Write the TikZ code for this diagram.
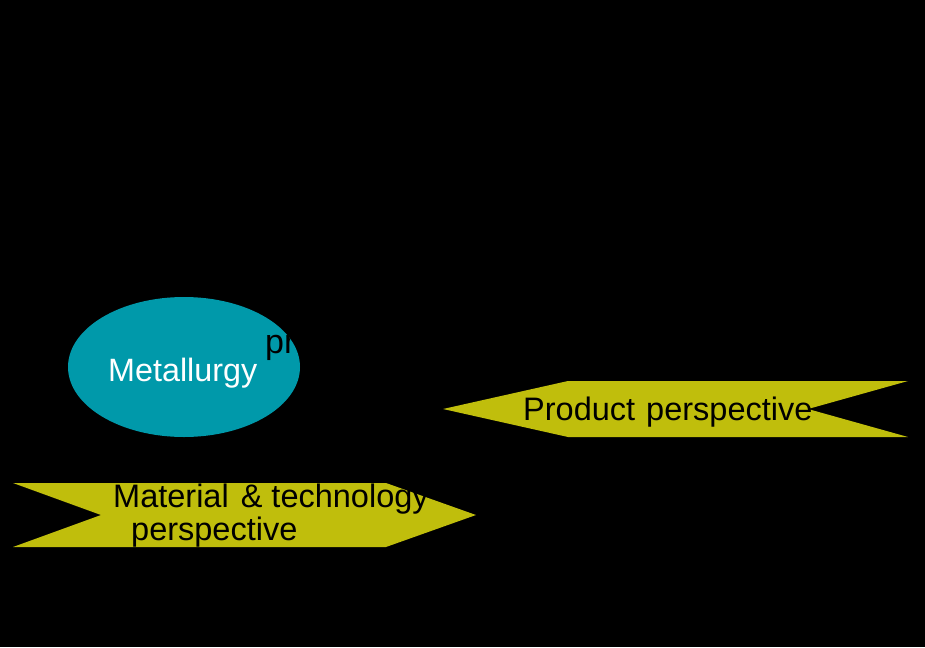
\documentclass[tikz,border=0pt]{standalone}
\usepackage{fontspec}
\setmainfont{Liberation Sans}
\usetikzlibrary{shapes.geometric}
\definecolor{teal}{RGB}{0,153,170}
\definecolor{olive}{RGB}{192,190,12}
\tikzset{
  lbl/.style={inner sep=0pt, anchor=base west, font=\fontsize{32.5}{34}\selectfont, text=black},
  chev/.style={fill=olive, draw=none}
}
\begin{document}
\begin{tikzpicture}[x=1pt,y=-1pt]
\fill[black] (0,0) rectangle (925,647);
\useasboundingbox (0,0) rectangle (925,647);
% ellipse
\node[ellipse, fill=teal, draw=none, minimum width=232pt, minimum height=140pt, inner sep=0pt] (metal) at (184,367) {};
\node[inner sep=0pt, anchor=base west, text=white, font=\fontsize{32.3}{34}\selectfont] (metallbl) at (108,381) {Metallurgy};
\begin{scope}
\clip (184,367) ellipse [x radius=116, y radius=70];
\node[lbl, font=\fontsize{34}{36}\selectfont] (pr) at (265,353) {pr};
\end{scope}
% product perspective chevron
\coordinate (p1) at (443,409);
\fill[chev] (p1) -- (568,381) -- (908,381) -- (808,409) -- (908,437) -- (568,437) -- cycle;
\node[lbl] (prod) at (523,420) {Product\hspace{2pt} perspective};
% material & technology chevron
\coordinate (m1) at (13,483);
\fill[chev] (m1) -- (386,483) -- (476,515) -- (386,547) -- (13,547) -- (101,515) -- cycle;
\node[lbl] (mat1) at (113,507) {Material\hspace{3pt} \& technology};
\node[lbl] (mat2) at (131,540) {perspective};
\end{tikzpicture}
\end{document}
